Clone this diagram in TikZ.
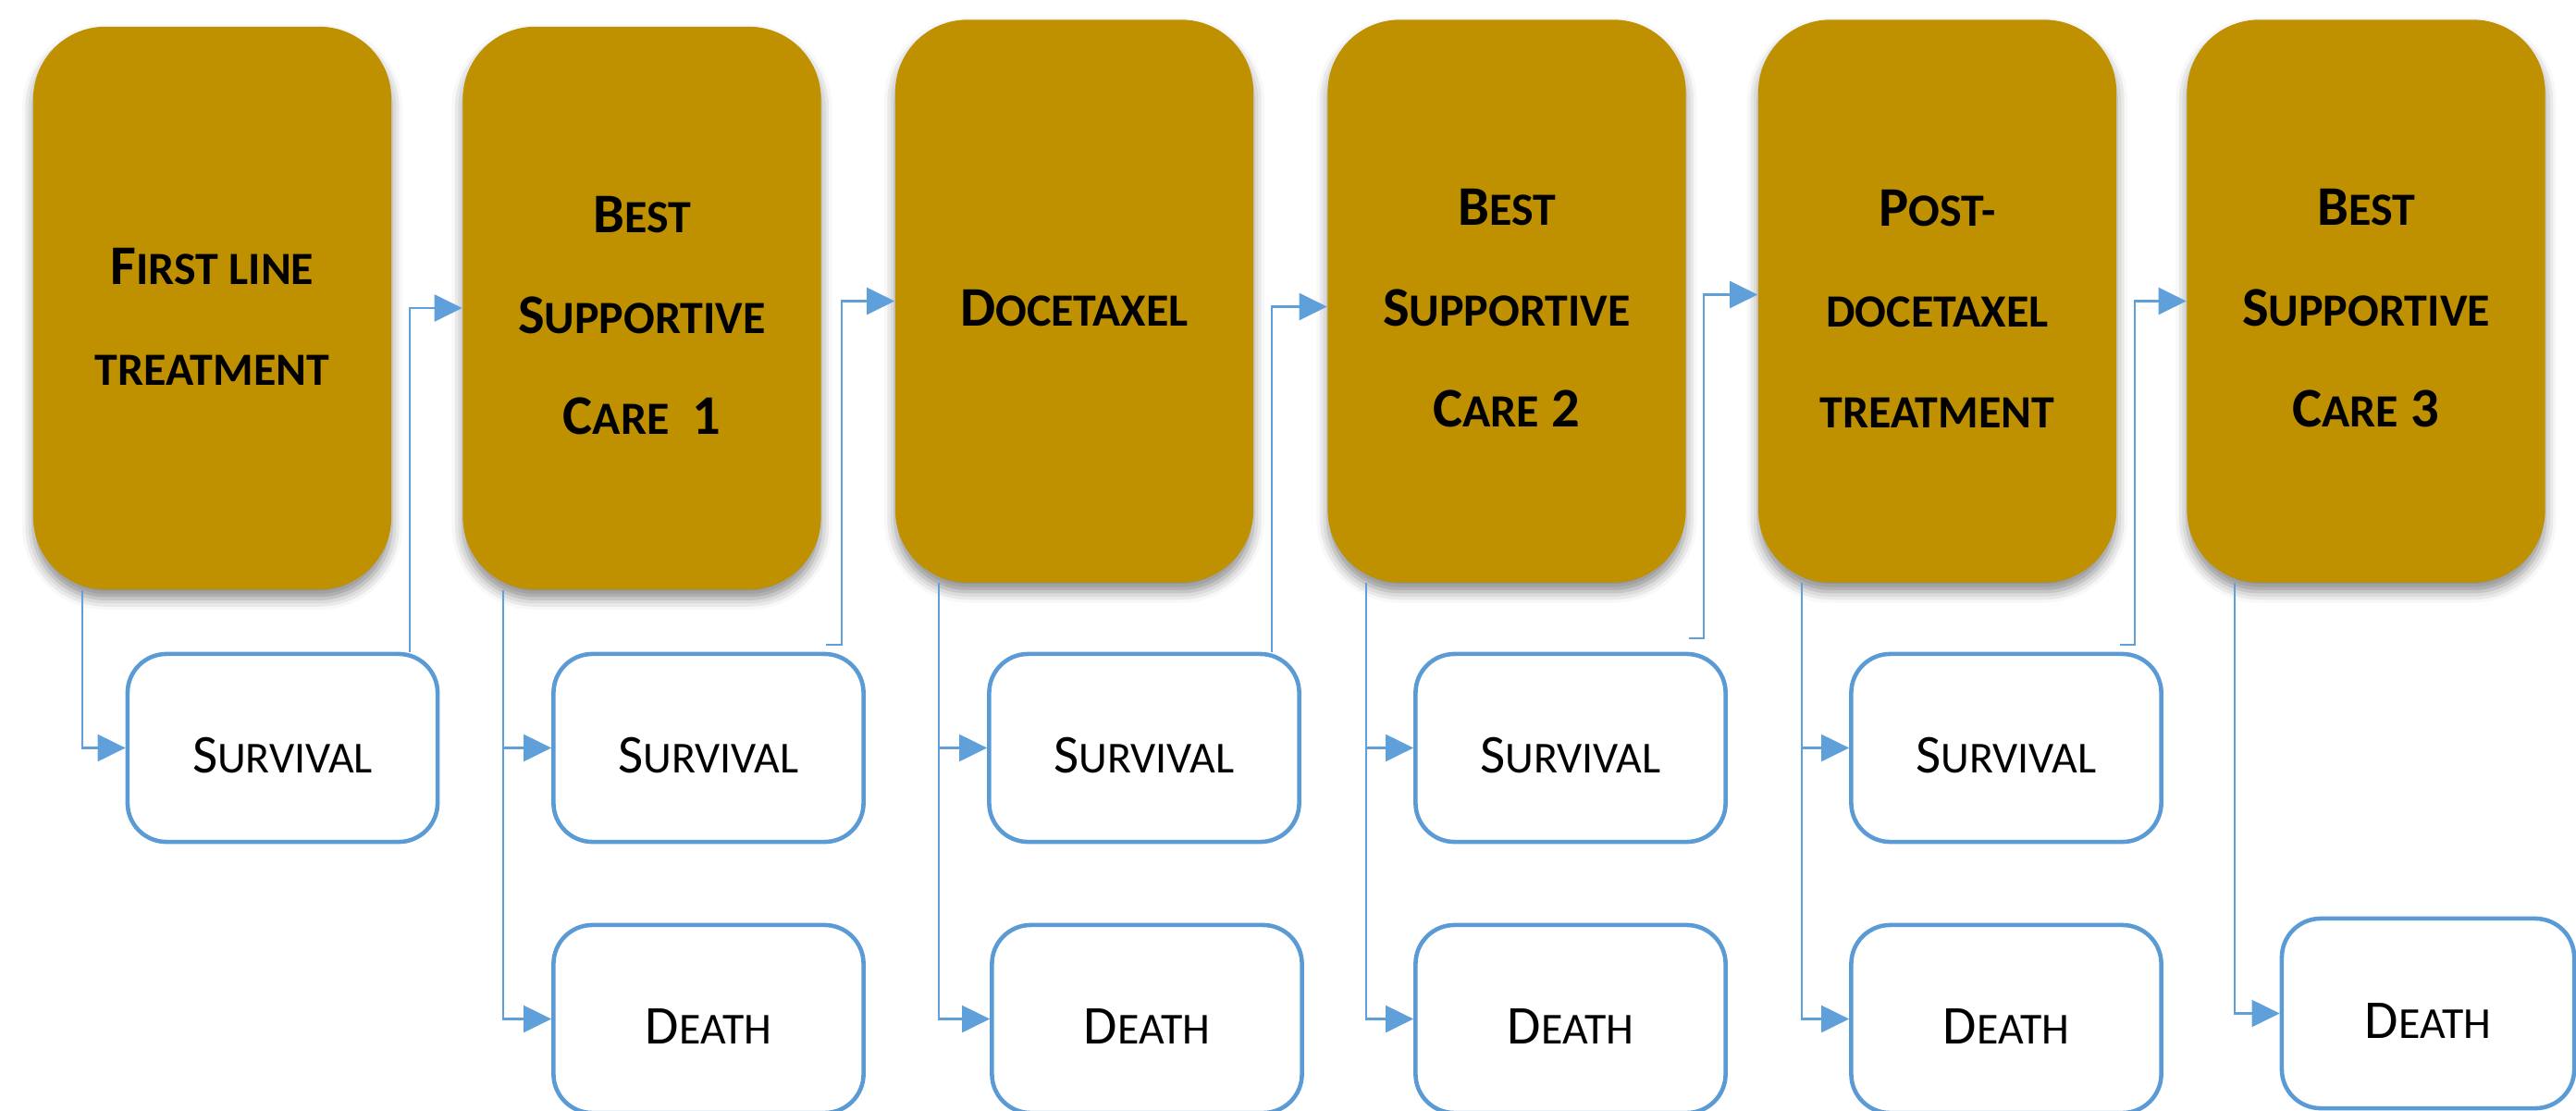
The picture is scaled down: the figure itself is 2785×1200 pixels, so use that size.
\documentclass[tikz,border=0pt]{standalone}
\usepackage{fontspec}
\setmainfont{Carlito}
\usetikzlibrary{arrows.meta,shadows.blur}
\definecolor{gold}{RGB}{191,144,0}
\definecolor{boxblue}{RGB}{91,155,213}
\definecolor{linkblue}{RGB}{96,160,218}
\newcommand\gbig{\fontsize{17.2pt}{31pt}\selectfont\bfseries}
\newcommand\gsm{\fontsize{14.2pt}{31pt}\selectfont}
\newcommand\wbig{\fontsize{16.8pt}{20pt}\selectfont}
\newcommand\wsm{\fontsize{13.6pt}{20pt}\selectfont}
\tikzset{
  goldbox/.style={fill=gold, rounded corners=0.78cm, minimum width=3.87cm,
    minimum height=6.08cm, inner sep=0pt,
    blur shadow={shadow xshift=0cm, shadow yshift=-0.1cm, shadow blur radius=0.12cm, shadow opacity=45}},
  gtext/.style={align=center, font=\gbig, inner sep=0pt, text=black},
  wbox/.style={draw=boxblue, line width=1.3pt, fill=white, rounded corners=0.42cm,
    minimum width=3.35cm, minimum height=2.03cm, inner sep=0pt, font=\wbig,
    text height=0.54cm, text depth=0pt},
  conn/.style={draw=linkblue, line width=0.6pt, -{Triangle[length=0.3cm,width=0.29cm]}}
}
\begin{document}
\begin{tikzpicture}[x=0.01cm,y=-0.01cm]
\useasboundingbox (0,0) rectangle (2785,1200);
% gold boxes
\node[goldbox] (g1) at (229.5,333) {};
\node[goldbox] (g2) at (694,333) {};
\node[goldbox] (g3) at (1161.5,325.5) {};
\node[goldbox] (g4) at (1629,325.5) {};
\node[goldbox] (g5) at (2094.5,325.5) {};
\node[goldbox] (g6) at (2558,325.5) {};
\node[gtext] (t1) at ([yshift=-0.09cm]g1.center) {F{\gsm IRST LINE}\\{\gsm TREATMENT}};
\node[gtext] (t2) at ([yshift=-0.08cm]g2.center) {B{\gsm EST}\\S{\gsm UPPORTIVE}\\C{\gsm ARE}\hspace{0.25cm}1};
\node[gtext] (t3) at ([yshift=-0.08cm]g3.center) {D{\gsm OCETAXEL}};
\node[gtext] (t4) at ([yshift=-0.08cm]g4.center) {B{\gsm EST}\\S{\gsm UPPORTIVE}\\C{\gsm ARE} 2};
\node[gtext] (t5) at ([yshift=-0.08cm]g5.center) {P{\gsm OST-}\\{\gsm DOCETAXEL}\\{\gsm TREATMENT}};
\node[gtext] (t6) at ([yshift=-0.08cm]g6.center) {B{\gsm EST}\\S{\gsm UPPORTIVE}\\C{\gsm ARE} 3};
% outcome boxes
\node[wbox] (s1) at (305.5,808.5) {S{\wsm URVIVAL}};
\node[wbox] (s2) at (766,808.5) {S{\wsm URVIVAL}};
\node[wbox] (s3) at (1237,808.5) {S{\wsm URVIVAL}};
\node[wbox] (s4) at (1698,808.5) {S{\wsm URVIVAL}};
\node[wbox] (s5) at (2169,808.5) {S{\wsm URVIVAL}};
\node[wbox] (d2) at (766,1101.5) {D{\wsm EATH}};
\node[wbox] (d3) at (1240,1101.5) {D{\wsm EATH}};
\node[wbox] (d4) at (1698,1101.5) {D{\wsm EATH}};
\node[wbox] (d5) at (2169,1101.5) {D{\wsm EATH}};
\node[wbox, minimum width=3.16cm, minimum height=2.05cm] (d6) at (2625,1095.5) {D{\wsm EATH}};
% connectors from treatment boxes to outcomes
\draw[conn] ([xshift=-1.405cm]g1.south) |- (s1.west);
\draw[conn] ([xshift=-1.5cm]g2.south) |- (s2.west);
\draw[conn] ([xshift=-1.5cm]g2.south) |- (d2.west);
\draw[conn] ([xshift=-1.465cm]g3.south) |- (s3.west);
\draw[conn] ([xshift=-1.465cm]g3.south) |- (d3.west);
\draw[conn] ([xshift=-1.52cm]g4.south) |- (s4.west);
\draw[conn] ([xshift=-1.52cm]g4.south) |- (d4.west);
\draw[conn] ([xshift=-1.465cm]g5.south) |- (s5.west);
\draw[conn] ([xshift=-1.465cm]g5.south) |- (d5.west);
\draw[conn] ([xshift=-1.42cm]g6.south) |- (d6.west);
% survival to next stage
\draw[conn] ([xshift=1.375cm]s1.north) |- (g2.west);
\draw[conn] ([xshift=1.27cm,yshift=0.08cm]s2.north) -- ++(17,0) |- (g3.west);
\draw[conn] ([xshift=1.38cm]s3.north) |- ([yshift=-0.06cm]g4.west);
\draw[conn] ([xshift=1.28cm,yshift=0.15cm]s4.north) -- ++(16,0) |- ([yshift=0.07cm]g5.west);
\draw[conn] ([xshift=1.23cm,yshift=0.08cm]s5.north) -- ++(16,0) |- (g6.west);
\end{tikzpicture}
\end{document}
